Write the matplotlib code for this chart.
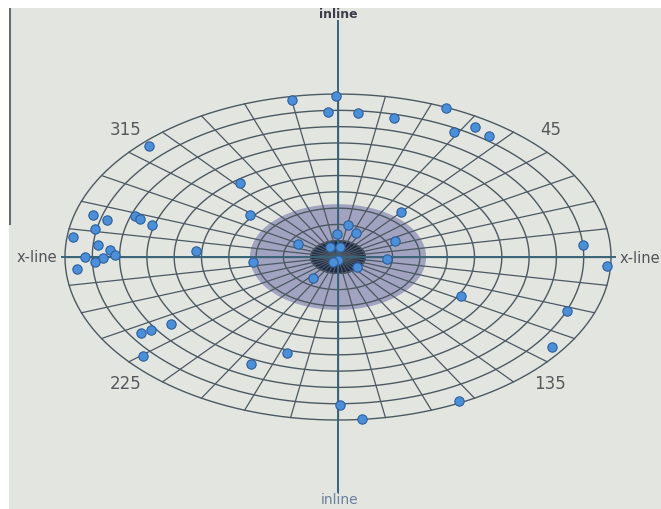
import numpy as np
import matplotlib
matplotlib.use("Agg")
from matplotlib import pyplot as plt

# azimuth in degrees (clockwise from inline), offset normalised to the max offset
azimuth = [
    359.6, 350.0, 357.6, 4.7, 13.5, 23.4, 29.0, 32.2, 36.7,
    314.5, 321.7, 308.7, 39.9,
    286.0, 285.0, 288.7, 287.8, 286.1, 280.9, 277.2, 274.8, 272.9, 270.8, 270.0, 269.6, 268.0, 265.6,
    274.0, 264.3, 298.6,
    10.7, 358.0, 24.0, 64.9, 6.5, 334.6, 180.0, 210.0, 93.8, 131.0, 215.5,
    85.3, 93.2, 118.0, 111.5, 125.2, 153.4, 175.0, 179.6,
    237.0, 236.8, 236.0, 229.6, 206.0, 197.6,
]
offset = [
    0.99, 0.98, 0.89, 0.886, 0.877, 0.996, 0.877, 0.943, 0.925,
    0.971, 0.579, 0.413, 0.36,
    0.934, 0.876, 0.785, 0.762, 0.709, 0.906, 0.979, 0.882, 0.836, 0.817, 0.927, 0.861, 0.89, 0.959,
    0.52, 0.313, 0.167,
    0.20, 0.141, 0.161, 0.231, 0.062, 0.068, 0.02, 0.036, 0.18, 0.093, 0.158,
    0.90, 0.987, 0.51, 0.90, 0.959, 0.988, 1.0, 0.908,
    0.859, 0.818, 0.74, 0.937, 0.731, 0.618,
]

ring_values = np.arange(0.1, 1.01, 0.1)
spoke_angles = np.arange(0, 360, 10)
angle_labels = ["45", "135", "225", "315"]
angle_label_pos = [45, 135, 225, 315]

GRID = "#4c5862"
AXIS = "#3b6478"
BG = "#e3e6e0"


def to_xy(az_deg, r):
    a = np.radians(az_deg)
    return np.asarray(r) * np.sin(a), np.asarray(r) * np.cos(a)


fig = plt.figure(figsize=(6.61, 5.09), dpi=100, facecolor="white")
ax = fig.add_axes([9 / 661, 0, 652 / 661, 501 / 509])
ax.set_facecolor(BG)
ax.set_xlim(-1.205, 1.183)
ax.set_ylim(-1.546, 1.528)
ax.set_aspect("auto")
ax.axis("off")
ax.add_patch(plt.Rectangle((0, 0), 1, 1, transform=ax.transAxes,
                           color=BG, zorder=0))
ax.plot([-1.2, -1.2], [0.2, 1.528], color="#6a6a78", lw=1.5, zorder=1)

t = np.linspace(0, 360, 361)

# shaded near-offset zone and the dark core
x, y = to_xy(t, 0.32)
ax.fill(x, y, color="#a1a3c0", zorder=1)
x, y = to_xy(t, 0.1)
ax.fill(x, y, color="#1f2848", zorder=1)

# rings and spokes
for r in ring_values:
    x, y = to_xy(t, r)
    ax.plot(x, y, color=GRID, lw=1.0, zorder=2)
for a in spoke_angles:
    x, y = to_xy(np.array([a, a]), np.array([0.0, 1.0]))
    ax.plot(x, y, color=GRID, lw=0.9, zorder=2)

# inline / x-line axes
ax.plot([0, 0], [1.45, -1.44], color=AXIS, lw=1.4, zorder=3)
ax.plot([-1.01, 1.015], [0, 0], color=AXIS, lw=1.4, zorder=3)
ax.text(0, 1.49, "inline", ha="center", va="center", fontsize=9,
        fontweight="bold", color="#3a3d48")
ax.text(0.005, -1.49, "inline", ha="center", va="center", fontsize=10,
        color="#6b7fa0")
ax.text(-1.03, 0, "x-line", ha="right", va="center", fontsize=10.5, color="#50545a")
ax.text(1.03, -0.01, "x-line", ha="left", va="center", fontsize=10.5, color="#50545a")

for lab, a in zip(angle_labels, angle_label_pos):
    lx, ly = to_xy(a, 1.1)
    ax.text(lx, ly, lab, ha="center", va="center", fontsize=12, color="#555a5e")

# shot points
px, py = to_xy(np.array(azimuth), np.array(offset))
ax.scatter(px, py, s=45, facecolor="#4b8fd8", edgecolor="#2d5f9c",
           linewidth=0.8, zorder=4)

fig.savefig("out.png", dpi=100, facecolor="white")
